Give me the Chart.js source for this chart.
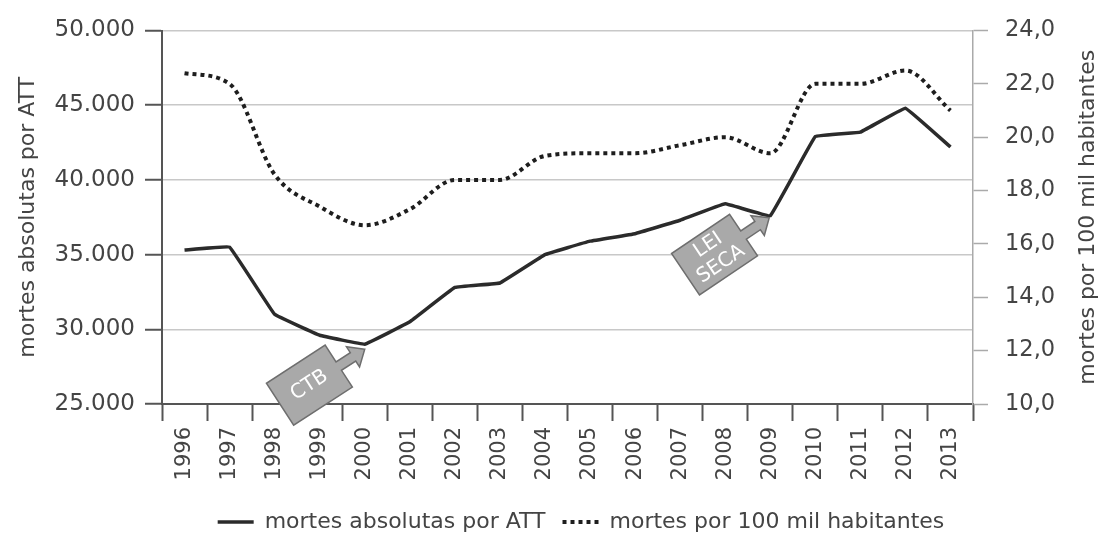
<!DOCTYPE html>
<html lang="pt-BR">
<head>
<meta charset="utf-8">
<title>Mortes por ATT</title>
<script src="https://cdn.jsdelivr.net/npm/chart.js@4.4.1/dist/chart.umd.min.js"></script>
<style>
    html, body { margin: 0; padding: 0; background: #fff; }
    #box { width: 1099px; height: 535px; position: relative; }
</style>
</head>
<body>
<div id="box"><canvas id="grafico"></canvas></div>
<script>
// Dados
const anos = ['1996', '1997', '1998', '1999', '2000', '2001', '2002', '2003', '2004',
              '2005', '2006', '2007', '2008', '2009', '2010', '2011', '2012', '2013'];
const mortesAbsolutas = [35300, 35500, 31000, 29600, 29000, 30500, 32800, 33100, 35000,
                         35900, 36400, 37300, 38400, 37600, 42900, 43200, 44800, 42200];
const mortesPor100mil = [22.4, 22.0, 18.6, 17.4, 16.7, 17.3, 18.4, 18.4, 19.3,
                         19.4, 19.4, 19.7, 20.0, 19.4, 22.0, 22.0, 22.5, 21.0];
const ticksEsquerda = [25000, 30000, 35000, 40000, 45000, 50000];
const ticksDireita = [10, 12, 14, 16, 18, 20, 22, 24];

// Setas de anotação (ligadas a um ano da série absoluta)
const setas = [
    { ano: '2000', linhas: ['CTB'], angulo: -33, dx: 0, dy: 5 },
    { ano: '2009', linhas: ['LEI', 'SECA'], angulo: -34, dx: -1, dy: 2 }
];

const corTexto = '#444';
const fonte = 'DejaVu Sans';
// recuos para centrar a legenda como no original
const recuoEsquerdo = 36;
const recuoDireito = -34;
Chart.defaults.font.family = fonte;
Chart.defaults.color = corTexto;

function formatarMilhar(v) {
    return String(v).replace(/\B(?=(\d{3})+(?!\d))/g, '.');
}

function desenharSeta(ctx, x, y, angulo, linhas) {
    ctx.save();
    ctx.translate(x, y);
    ctx.rotate(angulo * Math.PI / 180);
    ctx.beginPath();
    ctx.moveTo(0, 0);
    ctx.lineTo(-14, -12);
    ctx.lineTo(-14, -5);
    ctx.lineTo(-31, -5);
    ctx.lineTo(-31, -25);
    ctx.lineTo(-101, -25);
    ctx.lineTo(-101, 25);
    ctx.lineTo(-31, 25);
    ctx.lineTo(-31, 5);
    ctx.lineTo(-14, 5);
    ctx.lineTo(-14, 12);
    ctx.closePath();
    ctx.fillStyle = '#a9a9a9';
    ctx.fill();
    ctx.lineWidth = 1.5;
    ctx.strokeStyle = '#6e6e6e';
    ctx.stroke();
    ctx.fillStyle = '#fff';
    ctx.font = '20px "' + fonte + '"';
    ctx.textAlign = 'center';
    ctx.textBaseline = 'middle';
    const alt = 23;
    const y0 = -(linhas.length - 1) * alt / 2;
    linhas.forEach(function(t, i) {
        ctx.fillText(t, -66, y0 + i * alt);
    });
    ctx.restore();
}

const pluginExtras = {
    id: 'extras',
    afterDraw(chart) {
        const ctx = chart.ctx;
        const xs = chart.scales.x;
        const ys = chart.scales.y;
        const area = chart.chartArea;

        // setas
        setas.forEach(function(s) {
            const i = anos.indexOf(s.ano);
            const px = xs.getPixelForValue(i) + s.dx;
            const py = ys.getPixelForValue(mortesAbsolutas[i]) + s.dy;
            desenharSeta(ctx, px, py, s.angulo, s.linhas);
        });

        // título do eixo direito (lido de baixo para cima)
        ctx.save();
        ctx.translate(1088, (area.top + area.bottom) / 2);
        ctx.rotate(-Math.PI / 2);
        ctx.fillStyle = corTexto;
        ctx.font = '22px "' + fonte + '"';
        ctx.textAlign = 'center';
        ctx.textBaseline = 'middle';
        ctx.fillText('mortes por 100 mil habitantes', 0, 0);
        ctx.restore();
    }
};

new Chart(document.getElementById('grafico'), {
    type: 'line',
    data: {
        labels: anos,
        datasets: [{
            label: 'mortes absolutas por ATT',
            data: mortesAbsolutas,
            yAxisID: 'y',
            borderColor: '#2b2b2b',
            backgroundColor: '#2b2b2b',
            borderWidth: 3.5,
            pointRadius: 0,
            tension: 0.05,
            fill: false
        }, {
            label: 'mortes por 100 mil habitantes',
            data: mortesPor100mil,
            yAxisID: 'y1',
            borderColor: '#1e1e1e',
            backgroundColor: '#1e1e1e',
            borderWidth: 4,
            borderDash: [4, 4],
            pointRadius: 0,
            cubicInterpolationMode: 'monotone',
            fill: false
        }]
    },
    options: {
        responsive: true,
        maintainAspectRatio: false,
        animation: false,
        layout: { padding: { top: 27, left: recuoEsquerdo, right: recuoDireito, bottom: -8 } },
        plugins: {
            tooltip: { enabled: false },
            legend: {
                position: 'bottom',
                labels: {
                    usePointStyle: true,
                    pointStyle: 'line',
                    pointStyleWidth: 36,
                    padding: 10,
                    color: corTexto,
                    font: { size: 22 },
                    generateLabels(chart) {
                        const itens = Chart.defaults.plugins.legend.labels.generateLabels(chart);
                        itens.forEach(function(it) {
                            const ds = chart.data.datasets[it.datasetIndex];
                            it.lineDash = ds.borderDash || [];
                            it.lineWidth = ds.borderWidth;
                            it.strokeStyle = ds.borderColor;
                            it.lineCap = 'butt';
                            it.text = it.text + ' ';
                        });
                        return itens;
                    }
                }
            }
        },
        scales: {
            x: {
                offset: true,
                afterFit(scale) { scale.height = 97; },
                grid: {
                    offset: true,
                    drawOnChartArea: false,
                    drawTicks: true,
                    tickLength: 17,
                    tickColor: '#555',
                    tickWidth: 2
                },
                border: { color: '#555', width: 2 },
                ticks: {
                    minRotation: 90,
                    maxRotation: 90,
                    autoSkip: false,
                    padding: 6,
                    color: corTexto,
                    font: { size: 21 }
                }
            },
            y: {
                position: 'left',
                min: 25000,
                max: 50000,
                afterFit(scale) { scale.width = 162 - recuoEsquerdo; },
                afterBuildTicks(scale) {
                    scale.ticks = ticksEsquerda.map(v => ({ value: v }));
                },
                grid: {
                    color: '#c8c8c8',
                    lineWidth: 1.5,
                    tickLength: 17,
                    tickColor: '#555',
                    tickWidth: 2
                },
                border: { color: '#555', width: 2 },
                ticks: {
                    padding: 10,
                    color: corTexto,
                    font: { size: 23 },
                    callback: v => formatarMilhar(v)
                },
                title: {
                    display: true,
                    text: 'mortes absolutas por ATT',
                    color: corTexto,
                    font: { size: 22 },
                    padding: { top: 15 - recuoEsquerdo, bottom: 0 }
                }
            },
            y1: {
                position: 'right',
                min: 10,
                max: 24,
                afterFit(scale) { scale.width = 126 - recuoDireito; },
                afterBuildTicks(scale) {
                    scale.ticks = ticksDireita.map(v => ({ value: v }));
                },
                grid: {
                    drawOnChartArea: false,
                    tickLength: 15,
                    tickColor: '#aaa',
                    tickWidth: 1.5
                },
                border: { color: '#aaa', width: 1.5 },
                ticks: {
                    padding: 17,
                    color: corTexto,
                    font: { size: 22.5 },
                    callback: v => v.toFixed(1).replace('.', ',')
                }
            }
        }
    },
    plugins: [pluginExtras]
});
</script>
</body>
</html>
